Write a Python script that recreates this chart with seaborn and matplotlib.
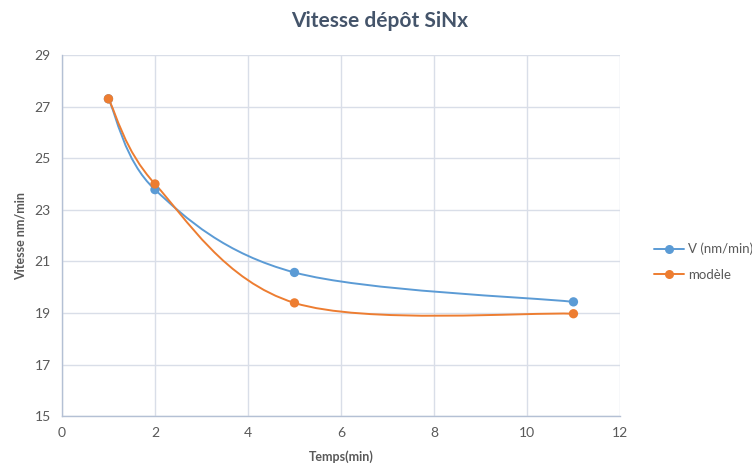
import numpy as np
import pandas as pd
import matplotlib
matplotlib.use("Agg")
import matplotlib.pyplot as plt
from matplotlib.path import Path
from matplotlib.patches import PathPatch
from matplotlib.lines import Line2D
import seaborn as sns

# Data
temps = [1, 2, 5, 11]
vitesse = [27.3, 23.78, 20.57, 19.43]
modele = [27.3, 24.0, 19.39, 18.97]
series_names = ["V (nm/min)", "modèle"]
colors = ["#5B9BD5", "#ED7D31"]
x_ticks = [0, 2, 4, 6, 8, 10, 12]
y_ticks = [15, 17, 19, 21, 23, 25, 27, 29]

df = pd.DataFrame({
    "Temps": temps * 2,
    "Vitesse": vitesse + modele,
    "serie": [series_names[0]] * len(temps) + [series_names[1]] * len(temps),
})

sns.set_theme(style="white")
plt.rcParams["font.family"] = ["Lato", "DejaVu Sans"]

fig = plt.figure(figsize=(7.52, 4.66), dpi=100)
ax = fig.add_axes([0.0824, 0.107, 0.742, 0.775])

text_col = "#595959"
grid_col = "#D9DEE8"


def smooth_path(xs, ys):
    pts = np.column_stack([xs, ys]).astype(float)
    n = len(pts)
    verts = [pts[0]]
    codes = [Path.MOVETO]
    for i in range(n - 1):
        p0 = pts[i - 1] if i > 0 else pts[i]
        p1 = pts[i]
        p2 = pts[i + 1]
        p3 = pts[i + 2] if i + 2 < n else pts[i + 1]
        c1 = p1 + (p2 - p0) / 6.0
        c2 = p2 - (p3 - p1) / 6.0
        verts += [c1, c2, p2]
        codes += [Path.CURVE4] * 3
    return Path(verts, codes)


for name, col in zip(series_names, colors):
    sub = df[df["serie"] == name]
    patch = PathPatch(smooth_path(sub["Temps"].values, sub["Vitesse"].values),
                      facecolor="none", edgecolor=col, lw=1.4,
                      transform=ax.transData, zorder=2)
    ax.add_patch(patch)

sns.scatterplot(data=df, x="Temps", y="Vitesse", hue="serie",
                palette=dict(zip(series_names, colors)), s=45,
                edgecolor="none", ax=ax, zorder=3, legend=False)

ax.set_xlim(0, 12)
ax.set_ylim(15, 29)
ax.set_xticks(x_ticks)
ax.set_yticks(y_ticks)
ax.grid(True, color=grid_col, lw=1)
ax.set_axisbelow(True)
for s in ["top", "right"]:
    ax.spines[s].set_visible(False)
for s in ["left", "bottom"]:
    ax.spines[s].set_color("#B4C0D4")
    ax.spines[s].set_linewidth(1)
ax.tick_params(axis="both", colors=text_col, labelsize=10, length=0, pad=8)

ax.set_xlabel("Temps(min)", fontsize=9, fontweight="bold", color=text_col, labelpad=8)
ax.set_ylabel("Vitesse nm/min", fontsize=9, fontweight="bold", color=text_col, labelpad=6)

fig.text(0.505, 0.955, "Vitesse dépôt SiNx", ha="center", va="center",
         fontsize=15, fontweight="bold", color="#44546A")

handles = [Line2D([0], [0], color=c, lw=1.4, marker="o", markersize=6.5,
                  markeredgewidth=0) for c in colors]
leg = fig.legend(handles, series_names, loc="upper left",
                 bbox_to_anchor=(0.862, 0.49), frameon=False,
                 fontsize=9.5, handlelength=2.3, handletextpad=0.3,
                 labelspacing=1.0, borderaxespad=0)
for t in leg.get_texts():
    t.set_color(text_col)

fig.savefig("out.png", dpi=100)
